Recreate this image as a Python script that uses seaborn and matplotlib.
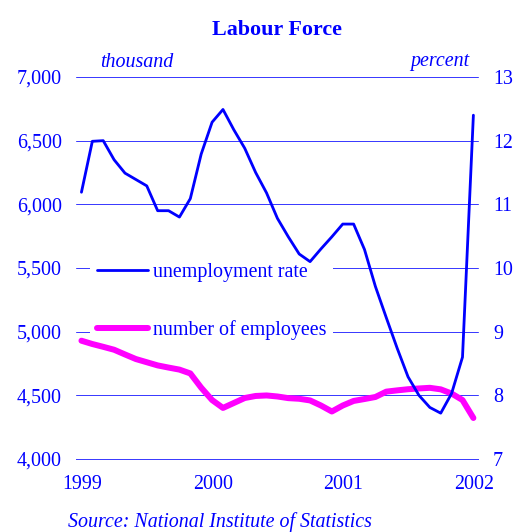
import matplotlib
matplotlib.use("Agg")
import matplotlib.pyplot as plt
import matplotlib.transforms as mtransforms
import seaborn as sns
import pandas as pd

# ---- data ----
months = pd.date_range("1999-01-01", periods=37, freq="MS")
unemployment_rate = [11.19, 11.99, 12.00, 11.70, 11.49, 11.39, 11.29, 10.90, 10.90, 10.80,
                     11.09, 11.79, 12.29, 12.49, 12.17, 11.88, 11.50, 11.18, 10.78, 10.49,
                     10.22, 10.10, 10.30, 10.49, 10.69, 10.69, 10.29, 9.71, 9.22, 8.74,
                     8.29, 8.00, 7.81, 7.72, 8.03, 8.60, 12.40]
employees = [4929, 4903, 4881, 4858, 4821, 4785, 4760, 4735, 4718, 4702,
             4672, 4560, 4463, 4401, 4440, 4479, 4495, 4499, 4491, 4478,
             4473, 4460, 4420, 4373, 4420, 4456, 4471, 4487, 4529, 4539,
             4548, 4554, 4559, 4547, 4514, 4463, 4322]
year_ticks = [1999, 2000, 2001, 2002]
left_ticks = [4000, 4500, 5000, 5500, 6000, 6500, 7000]
right_ticks = [7, 8, 9, 10, 11, 12, 13]
labels = ["unemployment rate", "number of employees"]

df = pd.DataFrame({
    "x": months.year + (months.month - 0.5) / 12.0,
    "rate": unemployment_rate,
    "emp": employees,
})

sns.set_style("white")
plt.rcParams["font.family"] = ["Liberation Serif", "DejaVu Serif"]

BLUE = "#0000ff"
GRID = "#3c3cff"
MAG = "#ff00ff"
DPI = 72
W, H = 517, 532
fig = plt.figure(figsize=(W / DPI, H / DPI), dpi=DPI)
L, R, T, B = 76, 478, 77, 459
ax = fig.add_axes([L / W, 1 - B / H, (R - L) / W, (B - T) / H])
ax2 = ax.twinx()

sns.lineplot(data=df, x="x", y="emp", ax=ax, color=MAG, lw=6, zorder=3,
             solid_capstyle="round", solid_joinstyle="round")
sns.lineplot(data=df, x="x", y="rate", ax=ax2, color=BLUE, lw=2.8, zorder=3)
h_mag = ax.lines[-1]
h_blue = ax2.lines[-1]

ax.set_xlim(1999, 2002.077)
ax.set_ylim(4000, 7000)
ax2.set_ylim(7, 13)

ax.set_xlabel("")
ax.set_ylabel("")
ax2.set_ylabel("")

ax.set_yticks(left_ticks)
ax.set_yticklabels([f"{v:,}" for v in left_ticks])
ax2.set_yticks(right_ticks)
ax2.set_yticklabels([str(v) for v in right_ticks])
ax.set_xticks(year_ticks)
ax.set_xticklabels([str(v) for v in year_ticks])

ax.tick_params(axis="y", length=0, pad=14, labelsize=20, labelcolor=BLUE)
ax2.tick_params(axis="y", length=0, pad=15, labelsize=20, labelcolor=BLUE)
ax.tick_params(axis="x", length=6, width=1, color=GRID, direction="out",
               labelsize=20, labelcolor=BLUE, pad=10)
offset = mtransforms.ScaledTranslation(6 / DPI, 0, fig.dpi_scale_trans)
for lab in ax.get_xticklabels():
    lab.set_transform(lab.get_transform() + offset)

for s in ["left", "right", "top"]:
    ax.spines[s].set_visible(False)
    ax2.spines[s].set_visible(False)
ax2.spines["bottom"].set_visible(False)
ax.spines["bottom"].set_color(GRID)
ax.spines["bottom"].set_linewidth(1)

ax.yaxis.grid(True, color=GRID, lw=1)
ax.xaxis.grid(False)
ax.set_axisbelow(True)
for gl in ax.get_ygridlines():
    gl.set_clip_on(False)

leg = ax.legend(handles=[h_blue, h_mag], labels=labels, loc="upper left",
                bbox_to_anchor=(0.0348, 0.532), frameon=True, facecolor="white",
                edgecolor="none", framealpha=1, fancybox=False, fontsize=20,
                handlelength=2.55, handletextpad=0.25, labelspacing=1.9,
                borderpad=0.35, borderaxespad=0, labelcolor=BLUE)
leg.set_zorder(2.5)

ax.annotate("thousand", xy=(0, 1), xycoords="axes fraction", xytext=(24, 10),
            textcoords="offset points", ha="left", va="baseline",
            fontsize=20, style="italic", color=BLUE)
ax.annotate("percent", xy=(1, 1), xycoords="axes fraction", xytext=(-9, 11),
            textcoords="offset points", ha="right", va="baseline",
            fontsize=20, style="italic", color=BLUE)

fig.text(277 / W, 1 - 35 / H, "Labour Force", ha="center", va="baseline",
         fontsize=22, fontweight="bold", color=BLUE)
fig.text(68 / W, 1 - 527 / H, "Source: National Institute of Statistics",
         ha="left", va="baseline", fontsize=20, style="italic", color=BLUE)

fig.savefig("out.png", dpi=DPI)
